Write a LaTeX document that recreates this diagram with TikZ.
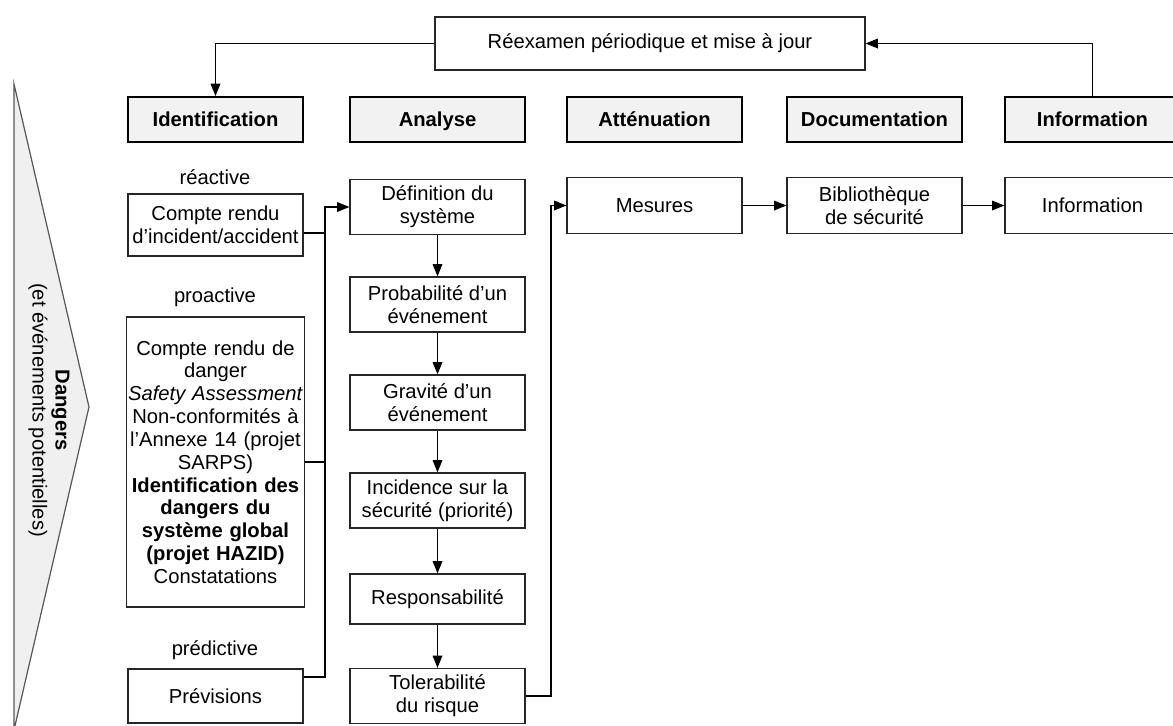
\documentclass[tikz,border=0pt]{standalone}
\usepackage{fontspec}
\setmainfont{Liberation Sans}
\usetikzlibrary{arrows.meta}
\tikzset{
    hdr/.style={draw, line width=1.1pt, fill=gray!10, minimum width=3.5cm, minimum height=0.9cm, text height=10.5pt, text depth=2.5pt, font=\fontsize{11.5}{13}\selectfont\bfseries},
    box/.style={draw=black!85, line width=0.7pt, fill=white, minimum width=3.5cm, minimum height=1.1cm, align=center, inner sep=1pt},
    lbl/.style={inner sep=0pt},
    flow/.style={line width=0.7pt, -{Triangle[length=7pt,width=5.5pt]}},
}

\begin{document}
\begin{tikzpicture}[x=0.02cm, y=0.02cm, font=\fontsize{11.5}{13}\selectfont]
\useasboundingbox (0,0) rectangle (1173,-725);
\clip (0,0) rectangle (1173,-725);
\filldraw[draw=black!65, fill=gray!12, line width=0.7pt] (14,-84) -- (89,-407) -- (14,-730) -- cycle;
\node[rotate=-90, align=center] (dang) at (49,-410) {\textbf{Dangers}\\(et événements potentielles)};

\node[box, minimum width=8.6cm, minimum height=1.06cm] (rev) at (650,-43.5) {Réexamen périodique et mise à jour};

\node[hdr] (hid) at (215.5,-119.5) {Identification};
\node[hdr] (han) at (437.5,-119.5) {Analyse};
\node[hdr] (hat) at (654.5,-119.5) {Atténuation};
\node[hdr] (hdo) at (874.5,-119.5) {Documentation};
\node[hdr] (hin) at (1092.5,-119.5) {Information};

\node[lbl] (lrea) at (215,-177) {réactive};
\node[lbl] (lpro) at (215,-297) {proactive};
\node[lbl] (lpre) at (215,-650) {prédictive};

\node[box, minimum height=1.24cm] (inc) at (215.5,-225) {Compte rendu\\d’incident/accident};
\node[box, minimum height=5.8cm, text width=3.5cm] (haz) at (215.5,-462) {Compte rendu de\\danger\\\textit{Safety Assessment}\\Non-conformités à\\l’Annexe 14 (projet\\SARPS)\\\textbf{Identification des}\\\textbf{dangers du}\\\textbf{système global}\\\textbf{(projet HAZID)}\\Constatations};
\node[box, minimum height=1.08cm] (prev) at (215.5,-696) {Prévisions};

\node[box] (def) at (437.5,-207) {Définition du\\système};
\node[box] (prob) at (437.5,-304.5) {Probabilité d’un\\événement};
\node[box] (grav) at (437.5,-402.5) {Gravité d’un\\événement};
\node[box] (sec) at (437.5,-500.5) {Incidence sur la\\sécurité (priorité)};
\node[box, minimum height=1.0cm] (resp) at (437.5,-599) {Responsabilité};
\node[box] (tol) at (437.5,-696) {Tolerabilité\\du risque};

\node[box, minimum height=1.12cm] (mes) at (654.5,-205.5) {Mesures};
\node[box, minimum height=1.12cm] (bib) at (874.5,-205.5) {Bibliothèque\\de sécurité};
\node[box, minimum height=1.12cm] (inf) at (1092.5,-205.5) {Information};

\coordinate (bus) at (325,-207);
\coordinate (ret) at (551,-205.5);

\draw[flow] (rev.west) -| (hid.north);
\draw[flow] (hin.north) |- (rev.east);
\draw[flow] ([yshift=-0.16cm]inc.east) -| (bus) -- (def.west);
\draw[line width=0.7pt] (haz.east) -- (haz.east -| bus);
\draw[line width=0.7pt] ([yshift=0.38cm]prev.east) -| (bus);
\foreach \a/\b in {def/prob, prob/grav, grav/sec, sec/resp, resp/tol}
    \draw[flow] (\a) -- (\b);
\draw[flow] (tol.east) -| (ret) -- (mes.west);
\draw[flow] (mes) -- (bib);
\draw[flow] (bib) -- (inf);
\end{tikzpicture}
\end{document}
